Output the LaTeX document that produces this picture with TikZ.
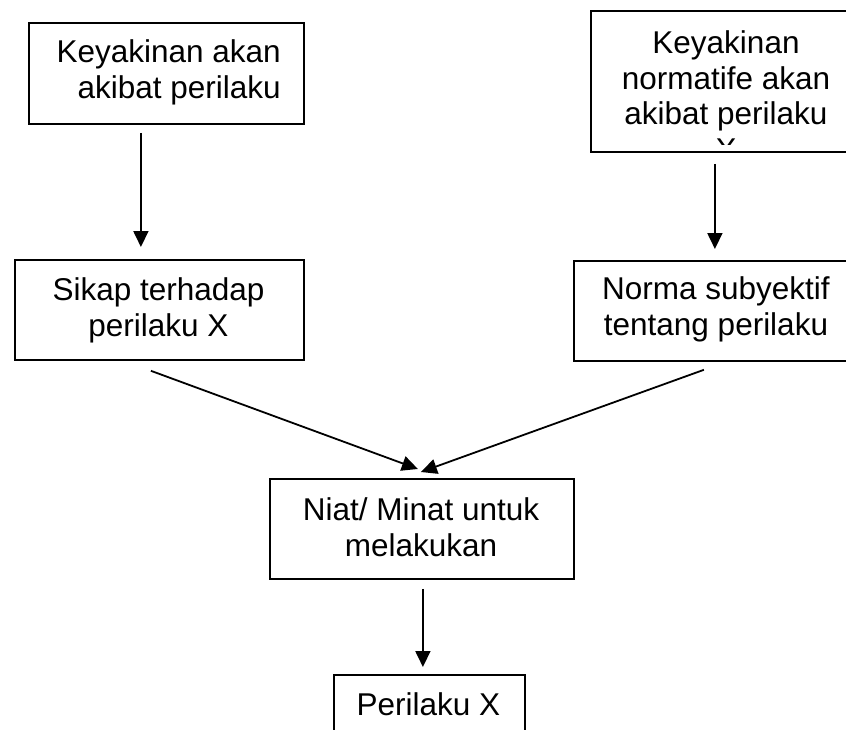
\documentclass[tikz,border=0pt]{standalone}
\usepackage{fontspec}
\setmainfont{Liberation Sans}
\usetikzlibrary{arrows.meta,calc}
\begin{document}
\begin{tikzpicture}[x=1pt,y=-1pt,
  box/.style={draw, line width=1.8pt, inner sep=0pt, anchor=north west},
  txt/.style={anchor=base, align=center, inner sep=0pt, font=\fontsize{31.5}{36}\selectfont},
  arr/.style={line width=1.8pt, -{Triangle[length=16pt,width=15pt]}}]
\fill[white] (0,0) rectangle (846,729);
\useasboundingbox (0,0) rectangle (846,729);
% boxes
\node[box, minimum width=275pt, minimum height=101pt] (b1) at (28,22) {};
\node[box, minimum width=280pt, minimum height=141pt] (b2) at (590,10) {};
\node[box, minimum width=289pt, minimum height=100pt] (b3) at (14,259) {};
\node[box, minimum width=297pt, minimum height=100pt] (b4) at (573,260) {};
\node[box, minimum width=304pt, minimum height=100pt] (b5) at (269,478) {};
\node[box, minimum width=191pt, minimum height=80pt] (b6) at (333,674) {};
% texts (base anchor = baseline of the last line)
\node[txt, anchor=base east, align=right] (t1) at (281,98) {Keyakinan akan\\akibat perilaku};
\begin{scope}
  \clip (590,10) rectangle (870,144);
  \node[txt, font=\fontsize{31.5}{35.5}\selectfont] (t2) at (726,160) {Keyakinan\\normatife akan\\akibat perilaku\\X};
\end{scope}
\node[txt] (t3) at (158.5,336) {Sikap terhadap\\perilaku X};
\node[txt] (t4) at (716,335) {Norma subyektif\\tentang perilaku};
\node[txt] (t5) at (421,556) {Niat/ Minat untuk\\melakukan};
\node[txt] (t6) at (428.5,715) {Perilaku X};
% arrows
\draw[arr] ($(b1.south)+(-25.5,8)$) -- ($(b3.north)+(-18.5,-12)$);
\draw[arr] ($(b2.south)+(-16,11)$) -- ($(b4.north)+(-7.5,-11)$);
\draw[arr] ($(b3.south)+(-8.5,10)$) -- ($(b5.north)+(-4,-9)$);
\draw[arr] ($(b4.south)+(-18.5,8)$) -- ($(b5.north)+(-1,-6)$);
\draw[arr] ($(b5.south)+(1,9)$) -- ($(b6.north)+(-6.5,-7)$);
\end{tikzpicture}
\end{document}
